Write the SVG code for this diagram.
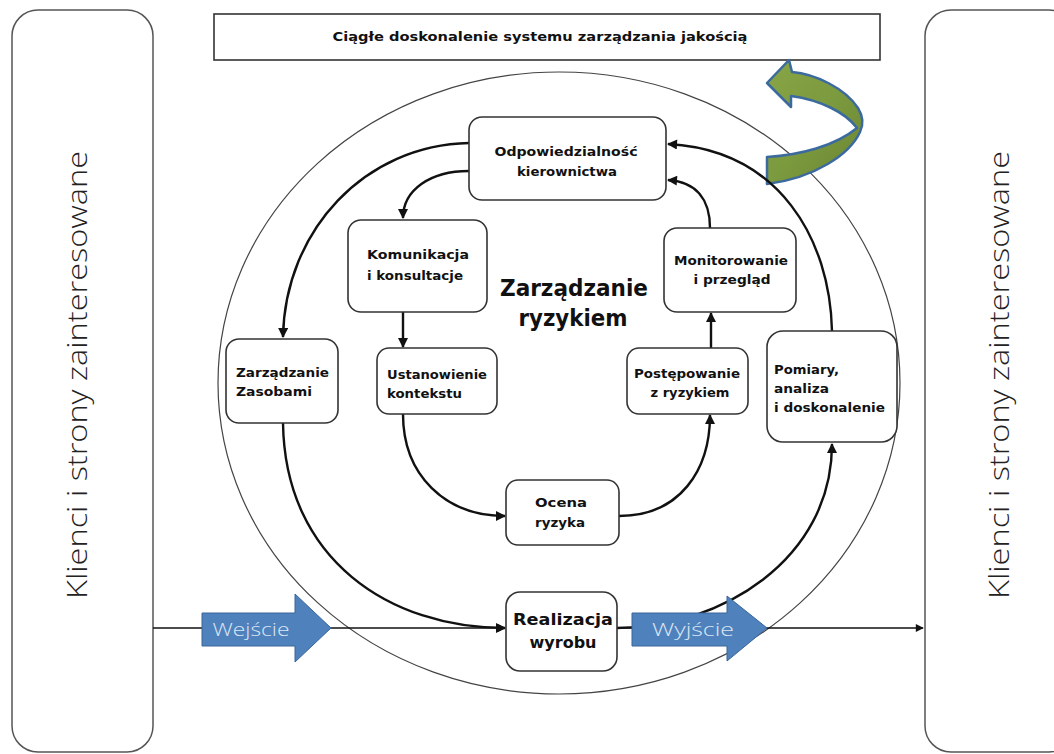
<svg xmlns="http://www.w3.org/2000/svg" width="1054" height="754" viewBox="0 0 1054 754">
<style>
.panel{fill:#fff;stroke:#555;stroke-width:1.5}
.box{fill:#fff;stroke:#333;stroke-width:1.6}
.t{font-family:"DejaVu Sans","Liberation Sans",sans-serif;font-weight:bold;font-size:13px;fill:#111}
.side{font-family:"Open Sans","Liberation Sans",Arial,sans-serif;font-weight:300;font-size:27px;fill:#222}
.conn{fill:none;stroke:#111;stroke-width:2.4}
.hline{fill:none;stroke:#111;stroke-width:1.6}
.blue{fill:#4F81BD;stroke:#3A6699;stroke-width:1}
.bt{font-family:"Open Sans","Liberation Sans",Arial,sans-serif;font-weight:300;font-size:19px;fill:#dce6f2}
</style>
<defs>
<marker id="ah" viewBox="0 0 10 10" refX="9" refY="5" markerWidth="11" markerHeight="10" markerUnits="userSpaceOnUse" orient="auto"><path d="M0,0 L10,5 L0,10 z" fill="#111"/></marker>
<marker id="ahs" viewBox="0 0 10 10" refX="9" refY="5" markerWidth="9" markerHeight="8" markerUnits="userSpaceOnUse" orient="auto"><path d="M0,0 L10,5 L0,10 z" fill="#111"/></marker>
<linearGradient id="gr" x1="0" y1="0" x2="1" y2="1"><stop offset="0" stop-color="#88A646"/><stop offset="0.5" stop-color="#7C9A3E"/><stop offset="1" stop-color="#6A8634"/></linearGradient>
</defs>

<g id="panel-left"><rect class="panel" x="12" y="10" width="141" height="742" rx="26"/>
<text class="side" transform="translate(87,375) rotate(-90)" text-anchor="middle" textLength="448" lengthAdjust="spacingAndGlyphs">Klienci i strony zainteresowane</text></g>
<g id="panel-right"><rect class="panel" x="925" y="10" width="150" height="742" rx="26"/>
<text class="side" transform="translate(1009,375) rotate(-90)" text-anchor="middle" textLength="448" lengthAdjust="spacingAndGlyphs">Klienci i strony zainteresowane</text></g>

<g id="top-box"><rect x="214" y="14" width="666" height="46" fill="#fff" stroke="#333" stroke-width="1.6"/>
<text class="t" x="540" y="41" text-anchor="middle" textLength="415" lengthAdjust="spacingAndGlyphs">Ciągłe doskonalenie systemu zarządzania jakością</text></g>

<g id="circle"><ellipse cx="559" cy="383" rx="341" ry="311" fill="none" stroke="#444" stroke-width="1.2"/></g>

<g id="green-arrow"><path d="M767,83 L789,60 L792,72 C815,74 845,88 858,108 C864,118 863,126 860,132 C850,154 815,178 767,184 L767,157 C800,155 835,146 857,128 C845,112 820,100 791,96 L791,107 Z" fill="url(#gr)" stroke="#3C6A9E" stroke-width="2.5" stroke-linejoin="round"/></g>

<g id="connectors">
<path class="hline" d="M153,628 L505,628" marker-end="url(#ahs)"/>
<path class="hline" d="M617,628 L923,628" marker-end="url(#ahs)"/>
<path class="conn" d="M469,143 C365,145 285,230 283,337" marker-end="url(#ah)"/>
<path class="conn" d="M469,171 C430,171 403,190 403,218" marker-end="url(#ah)"/>
<path class="conn" d="M403,312 L403,347" marker-end="url(#ah)"/>
<path class="conn" d="M403,414 C403,475 445,516 505,516" marker-end="url(#ah)"/>
<path class="conn" d="M619,516 C680,516 710,470 710,415" marker-end="url(#ah)"/>
<path class="conn" d="M711,348 L711,313" marker-end="url(#ah)"/>
<path class="conn" d="M710,228 C710,200 697,182 668,180" marker-end="url(#ah)"/>
<path class="conn" d="M832,331 C830,240 780,150 668,144" marker-end="url(#ah)"/>
<path class="conn" d="M283,423 C285,560 390,628 505,628" marker-end="url(#ah)"/>
<path class="conn" d="M617,628 C720,628 832,560 832,444" marker-end="url(#ah)"/>
</g>

<g id="wejscie"><polygon class="blue" points="202,613 295,613 295,594 331,628 295,662 295,646 202,646"/>
<text class="bt" x="251" y="636" text-anchor="middle" textLength="77" lengthAdjust="spacingAndGlyphs">Wejście</text></g>
<g id="wyjscie"><polygon class="blue" points="632,613 727,613 727,596 767,628 727,661 727,646 632,646"/>
<text class="bt" x="693" y="636" text-anchor="middle" textLength="82" lengthAdjust="spacingAndGlyphs">Wyjście</text></g>

<g id="odpowiedzialnosc"><rect class="box" x="469" y="117" width="197" height="83" rx="13"/>
<text class="t" x="566" y="156" text-anchor="middle" textLength="143" lengthAdjust="spacingAndGlyphs">Odpowiedzialność</text>
<text class="t" x="567" y="176" text-anchor="middle" textLength="100" lengthAdjust="spacingAndGlyphs">kierownictwa</text></g>

<g id="komunikacja"><rect class="box" x="348" y="220" width="139" height="92" rx="13"/>
<text class="t" x="367" y="259" textLength="102" lengthAdjust="spacingAndGlyphs">Komunikacja</text>
<text class="t" x="367" y="280" textLength="96" lengthAdjust="spacingAndGlyphs">i konsultacje</text></g>

<g id="zarzadzanie-ryzykiem">
<text x="574" y="296" text-anchor="middle" font-family="DejaVu Sans,Liberation Sans,sans-serif" font-weight="bold" font-size="23" fill="#111" textLength="148" lengthAdjust="spacingAndGlyphs">Zarządzanie</text>
<text x="573" y="326" text-anchor="middle" font-family="DejaVu Sans,Liberation Sans,sans-serif" font-weight="bold" font-size="23" fill="#111" textLength="109" lengthAdjust="spacingAndGlyphs">ryzykiem</text></g>

<g id="monitorowanie"><rect class="box" x="664" y="228" width="132" height="84" rx="13"/>
<text class="t" x="731" y="265" text-anchor="middle" textLength="114" lengthAdjust="spacingAndGlyphs">Monitorowanie</text>
<text class="t" x="732" y="284" text-anchor="middle" textLength="77" lengthAdjust="spacingAndGlyphs">i przegląd</text></g>

<g id="zasoby"><rect class="box" x="226" y="339" width="112" height="84" rx="13"/>
<text class="t" x="236" y="377" textLength="93" lengthAdjust="spacingAndGlyphs">Zarządzanie</text>
<text class="t" x="236" y="396" textLength="76" lengthAdjust="spacingAndGlyphs">Zasobami</text></g>

<g id="ustanowienie"><rect class="box" x="377" y="348" width="120" height="66" rx="12"/>
<text class="t" x="387" y="379" textLength="100" lengthAdjust="spacingAndGlyphs">Ustanowienie</text>
<text class="t" x="387" y="398" textLength="75" lengthAdjust="spacingAndGlyphs">kontekstu</text></g>

<g id="postepowanie"><rect class="box" x="627" y="348" width="121" height="66" rx="12"/>
<text class="t" x="687" y="378" text-anchor="middle" textLength="106" lengthAdjust="spacingAndGlyphs">Postępowanie</text>
<text class="t" x="690" y="397" text-anchor="middle" textLength="79" lengthAdjust="spacingAndGlyphs">z ryzykiem</text></g>

<g id="pomiary"><rect class="box" x="767" y="331" width="130" height="111" rx="16"/>
<text class="t" x="774" y="374" textLength="65" lengthAdjust="spacingAndGlyphs">Pomiary,</text>
<text class="t" x="774" y="393" textLength="55" lengthAdjust="spacingAndGlyphs">analiza</text>
<text class="t" x="774" y="412" textLength="111" lengthAdjust="spacingAndGlyphs">i doskonalenie</text></g>

<g id="ocena"><rect class="box" x="506" y="480" width="113" height="65" rx="12"/>
<text class="t" x="561" y="507" text-anchor="middle" textLength="52" lengthAdjust="spacingAndGlyphs">Ocena</text>
<text class="t" x="560" y="527" text-anchor="middle" textLength="50" lengthAdjust="spacingAndGlyphs">ryzyka</text></g>

<g id="realizacja"><rect class="box" x="506" y="592" width="111" height="79" rx="14"/>
<text x="563" y="625" text-anchor="middle" font-family="DejaVu Sans,Liberation Sans,sans-serif" font-weight="bold" font-size="16" fill="#111" textLength="100" lengthAdjust="spacingAndGlyphs">Realizacja</text>
<text x="563" y="648" text-anchor="middle" font-family="DejaVu Sans,Liberation Sans,sans-serif" font-weight="bold" font-size="16" fill="#111" textLength="67" lengthAdjust="spacingAndGlyphs">wyrobu</text></g>
</svg>
